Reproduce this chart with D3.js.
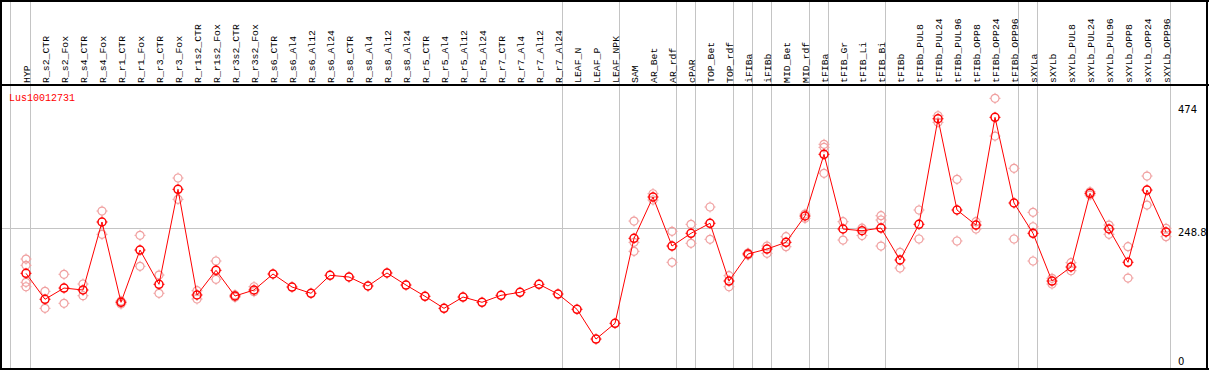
<!DOCTYPE html>
<html>
<head>
<meta charset="utf-8">
<script src="https://cdn.jsdelivr.net/npm/d3@7"></script>
<style>
  body { margin: 0; background: #fff; }
  svg { display: block; }
</style>
</head>
<body>
<div id="chart"></div>
<script>
// gene shown in the panel
const geneName = "Lus10012731";

// sample (column) names, left to right
const samples = [
  "HYP", "R_s2_CTR", "R_s2_Fox", "R_s4_CTR", "R_s4_Fox", "R_r1_CTR", "R_r1_Fox",
  "R_r3_CTR", "R_r3_Fox", "R_r1s2_CTR", "R_r1s2_Fox", "R_r3s2_CTR", "R_r3s2_Fox",
  "R_s6_CTR", "R_s6_Al4", "R_s6_Al12", "R_s6_Al24", "R_s8_CTR", "R_s8_Al4", "R_s8_Al12",
  "R_s8_Al24", "R_r5_CTR", "R_r5_Al4", "R_r5_Al12", "R_r5_Al24", "R_r7_CTR", "R_r7_Al4",
  "R_r7_Al12", "R_r7_Al24", "LEAF_N", "LEAF_P", "LEAF_NPK", "SAM", "AR_Bet", "AR_rdf",
  "cPAR", "TOP_Bet", "TOP_rdf", "iFIBa", "iFIBb", "MID_Bet", "MID_rdf", "tFIBa",
  "tFIB_Gr", "tFIB_Li", "tFIB_Bi", "tFIBb", "tFIBb_PUL8", "tFIBb_PUL24", "tFIBb_PUL96",
  "tFIBb_OPP8", "tFIBb_OPP24", "tFIBb_OPP96", "sXYLa", "sXYLb", "sXYLb_PUL8",
  "sXYLb_PUL24", "sXYLb_PUL96", "sXYLb_OPP8", "sXYLb_OPP24", "sXYLb_OPP96"
];

// mean expression per sample
const means = [
  169.2, 123.3, 143.2, 139.7, 260.0, 118.0, 210.4, 149.8, 317.8, 130.9, 174.5, 129.1, 139.7,
  168.0, 145.0, 133.9, 165.7, 162.7, 146.8, 169.8, 148.5, 128.6, 107.3, 127.3, 118.0,
  130.3, 135.6, 149.8, 132.6, 105.6, 53.0, 80.8, 231.1, 304.2, 217.5, 240.0, 257.7,
  155.6, 203.4, 212.2, 224.0, 270.6, 379.7, 247.6, 244.6, 249.3, 192.8, 255.9, 442.6,
  281.2, 254.6, 445.1, 293.6, 240.0, 155.6, 180.4, 310.7, 247.6, 188.7, 316.5, 242.3
];

// individual replicate values per sample (empty = single measurement)
const replicates = [
  [194.5, 183.4, 153.3, 145.5], [137.4, 107.3], [167.5, 116.2], [150.3, 129.6],
  [279.4, 238.2], [120.2, 115.0], [236.4, 181.6], [166.2, 133.9], [337.8, 300.1],
  [138.5, 123.8], [191.0, 158.6], [131.0, 127.0], [145.5, 136.7],
  [], [], [], [], [], [], [], [], [], [], [], [], [], [], [], [], [], [], [],
  [261.7, 224.0, 208.1], [310.0, 298.9], [243.5, 188.7], [255.9, 222.3], [286.5, 229.4],
  [165.0, 145.5], [205.0, 201.5], [217.5, 204.6], [234.0, 216.3], [274.0, 266.5],
  [397.4, 392.0, 346.1], [260.5, 228.1], [249.0, 236.0], [271.1, 263.5, 217.5],
  [206.4, 178.6], [281.2, 229.9], [447.9, 436.3], [335.5, 226.4], [260.5, 247.6],
  [478.7, 412.0], [354.9, 229.9], [277.1, 251.6, 191.0], [160.4, 150.3], [188.0, 173.8],
  [313.5, 307.7], [254.6, 238.2], [216.3, 160.9], [341.3, 290.0], [248.8, 234.0]
];

// index of the last sample of each group (a separator follows it)
const groupEnds = [0, 28, 31, 34, 35, 37, 38, 39, 41, 42, 45, 52, 53, 60];

// right-hand axis labels
const yTicks = [0, 248.8, 474];
const yGrid = [248.8];

const width = 1209, height = 370;
const headerBottom = 85, plotBottom = 369, plotRight = 1170;
const mono = "'Liberation Mono', 'DejaVu Sans Mono', monospace";

const x = d3.scalePoint().domain(samples).range([26, 1166]);
const y = d3.scaleLinear().domain([0, 474]).range([plotBottom, 101]);
const crisp = v => Math.round(v) + 0.5;

const svg = d3.select("#chart").append("svg")
    .attr("width", width)
    .attr("height", height)
    .attr("viewBox", [0, 0, width, height]);

// group separators (run through header too)
const sepX = [x(samples[0]) - 16].concat(groupEnds.map(i => x(samples[i]) + 4));
svg.append("g")
    .attr("stroke", "#c4c4c4")
  .selectAll("line")
  .data(sepX)
  .join("line")
    .attr("x1", d => crisp(d)).attr("x2", d => crisp(d))
    .attr("y1", 0).attr("y2", plotBottom);

// horizontal grid line
svg.append("g")
    .attr("stroke", "#c4c4c4")
  .selectAll("line")
  .data(yGrid)
  .join("line")
    .attr("x1", 0).attr("x2", plotRight)
    .attr("y1", d => crisp(y(d))).attr("y2", d => crisp(y(d)));

// frame
svg.append("g")
    .attr("stroke", "#000")
    .attr("stroke-width", 2)
    .call(g => g.append("line").attr("x1", 0).attr("x2", width).attr("y1", 1).attr("y2", 1))
    .call(g => g.append("line").attr("x1", 0).attr("x2", width).attr("y1", headerBottom).attr("y2", headerBottom))
    .call(g => g.append("line").attr("x1", 0).attr("x2", width).attr("y1", plotBottom).attr("y2", plotBottom))
    .call(g => g.append("line").attr("x1", 1).attr("x2", 1).attr("y1", 0).attr("y2", height))
    .call(g => g.append("line").attr("x1", 1207).attr("x2", 1207).attr("y1", 0).attr("y2", height));

// sample labels
svg.append("g")
    .attr("font-family", mono)
    .attr("font-size", 9.8)
    .attr("fill", "#000")
  .selectAll("text")
  .data(samples)
  .join("text")
    .attr("transform", d => `translate(${x(d) + 4},83) rotate(-90)`)
    .text(d => d);

// gene name
svg.append("text")
    .attr("x", 9)
    .attr("y", 101)
    .attr("font-family", mono)
    .attr("font-size", 10)
    .attr("fill", "#ff0000")
    .text(geneName);

// right axis labels
svg.append("g")
    .attr("font-family", "'DejaVu Sans', sans-serif")
    .attr("font-size", 10)
    .attr("fill", "#000")
  .selectAll("text")
  .data(yTicks)
  .join("text")
    .attr("x", 1178)
    .attr("y", d => Math.max(113, Math.min(365, y(d) + 8)))
    .text(d => d);

// marker: ring with small ticks
function marker(g, color, sw) {
  g.append("circle").attr("r", 4).attr("fill", "none").attr("stroke", color).attr("stroke-width", sw);
  g.append("path").attr("d", "M0,-5.5V-4M0,4V5.5M-5.5,0H-4M4,0H5.5").attr("stroke", color).attr("stroke-width", 1);
}

// replicate points
const reps = samples.flatMap((s, i) => replicates[i].map(v => ({s, v})));
svg.append("g")
  .selectAll("g")
  .data(reps)
  .join("g")
    .attr("transform", d => `translate(${x(d.s)},${y(d.v)})`)
    .each(function() { marker(d3.select(this), "#f0a0a0", 1.2); });

// mean line
const line = d3.line()
    .x((d, i) => x(samples[i]))
    .y(d => y(d));

svg.append("path")
    .datum(means)
    .attr("fill", "none")
    .attr("stroke", "#ff0000")
    .attr("stroke-width", 1)
    .attr("d", line);

// mean points
svg.append("g")
  .selectAll("g")
  .data(means)
  .join("g")
    .attr("transform", (d, i) => `translate(${x(samples[i])},${y(d)})`)
    .each(function() { marker(d3.select(this), "#ff0000", 1.5); });
</script>
</body>
</html>
